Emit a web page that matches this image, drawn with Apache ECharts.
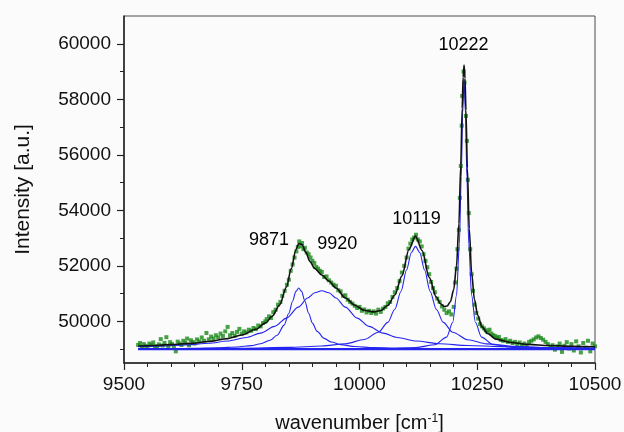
<!DOCTYPE html>
<html><head><meta charset="utf-8">
<script src="https://cdn.jsdelivr.net/npm/echarts@6/dist/echarts.min.js"></script>
<style>html,body{margin:0;padding:0;background:#fbfbfb}#c{width:624px;height:432px}</style>
</head><body><div id="c"></div>
<script>
// ---- tick values ----
const yMajorTicks = [50000, 52000, 54000, 56000, 58000, 60000];
const yMinorTicks = [49000, 51000, 53000, 55000, 57000, 59000];

// ---- measured data (green points) ----
const greenX = [
9530,9534,9538,9542,9546,9550,9554,9558,9562,9566,9570,9574,9578,9582,9586,9590,9594,9598,9602,9606,9610,9614,9618,9622,9626,9630,9634,9638,9642,9646,9650,9655,9660,9665,9670,9675,9680,9685,9690,9695,9700,9705,9710,9715,9720,9725,9730,9735,9740,9745,9750,9755,9760,9765,9770,9775,9780,9785,9790,9795,9800,
9803,9808,9812,9817,9822,9827,9832,9836,9841,9846,9850,9854,9858,9862,9866,9869,9872,9875,9878,9881,9884,9888,9892,9896,9900,9904,9908,9912,9916,9920,9925,9930,9935,9940,9945,9950,9955,9960,9965,9970,9975,9980,9985,9990,9995,10000,10005,10010,10015,10020,10025,10030,10035,10040,10045,
10050,10055,10060,10065,10070,10075,10080,10085,10090,10095,10100,10104,10108,10112,10116,10120,10124,10128,10132,10136,10140,10144,10148,10152,10156,10160,10165,10170,10175,10180,10185,10190,10195,10200,
10203,10206,10208,10211,10213,10215,10217,10218,10221,10223,10226,10228,10230,10232,10235,10238,10241,10244,10248,10252,10256,10260,10264,10268,10272,10276,10280,10284,10288,10292,10296,10300,10305,10310,10315,10320,10325,10330,10335,10340,10345,10350,10355,10360,10365,10370,10375,10380,10385,10390,10395,10400,10405,10410,10415,10420,10425,10430,10435,10440,10445,10450,10455,10460,10465,10470,10475,10480,10485,10490,10495,10500];
const greenY = [
49150,49220,49080,49180,49120,49060,49200,49150,49240,49100,49050,49170,49360,49130,49220,49430,49110,49250,49180,49080,48920,49270,49200,49150,49300,49230,49380,49140,49320,49260,49200,49350,49280,49420,49300,49580,49350,49450,49380,49500,49420,49560,49470,49640,49800,49500,49580,49480,49620,49730,49560,49640,49600,49700,49660,49760,49720,49850,49820,49940,50000,
50080,50180,50120,50330,50420,50600,50700,50920,51100,51320,51500,51820,52050,52300,52520,52680,52880,52700,52820,52600,52650,52480,52420,52300,52180,52100,51960,51900,51820,51780,51600,51620,51480,51400,51320,51280,51120,51080,50920,50940,50780,50700,50640,50560,50480,50520,50380,50430,50320,50380,50300,50360,50280,50420,50340,
50460,50520,50650,50700,50880,51050,51200,51450,51760,52000,52300,52620,52800,52950,53020,53120,52950,52880,52700,52420,52180,51950,51700,51420,51200,51050,50820,50700,50540,50420,50300,50360,50250,50520,
51400,51900,52600,53300,54450,55600,57050,58120,59000,58600,57400,56500,55100,53900,52600,51700,51100,50600,50300,50100,49900,49820,49750,49680,49620,49700,49560,49500,49470,49400,49440,49330,49300,49360,49260,49300,49220,49260,49180,49240,49150,49200,49120,49260,49300,49350,49420,49460,49400,49340,49260,49180,49060,49140,48980,49100,49200,48900,49120,49250,49020,49180,48950,49280,49100,48880,49220,49050,49300,48920,49200,49100];

// ---- cumulative fit (black) ----
const fitX = [9530,9560,9600,9640,9680,9720,9750,9780,9800,9815,9830,9845,9855,9865,9871,9878,9886,9895,9905,9920,9935,9950,9970,9990,10010,10030,10045,10060,10075,10090,10105,10119,10133,10148,10163,10172,10180,10186,10193,10200,10206,10211,10215,10218,10220,10222,10224,10226,10229,10233,10238,10244,10251,10260,10272,10290,10320,10360,10400,10450,10500];
const fitY = [49111,49129,49161,49206,49272,49379,49507,49714,49936,50189,50581,51239,51893,52580,52804,52767,52484,52152,51903,51672,51456,51201,50846,50580,50400,50340,50390,50570,50950,51640,52591,53072,52547,51583,50876,50635,50537,50552,50707,51144,52008,53511,55632,57664,58790,59232,58760,57603,55526,53346,51760,50791,50222,49800,49560,49360,49240,49170,49130,49105,49084];

// ---- fitted peak components (blue) ----
const p9871X = [9530,9600,9650,9700,9740,9770,9790,9810,9825,9840,9850,9858,9865,9871,9877,9884,9892,9900,9910,9925,9940,9960,9990,10030,10100,10200,10350,10500];
const p9871Y = [49012,49019,49028,49046,49077,49127,49191,49317,49501,49866,50290,50732,51080,51200,51080,50732,50290,49938,49641,49388,49255,49161,49093,49053,49026,49013,49006,49003];
const p9920X = [9530,9580,9630,9680,9720,9760,9790,9820,9845,9870,9890,9905,9920,9935,9950,9970,9995,10020,10050,10080,10120,10170,10230,10300,10400,10500];
const p9920Y = [49085,49110,49149,49210,49290,49420,49577,49820,50118,50511,50841,51029,51100,51029,50841,50511,50118,49820,49577,49420,49290,49195,49131,49089,49057,49039];
const p10119X = [9530,9650,9750,9850,9920,9970,10010,10040,10060,10075,10088,10100,10110,10119,10128,10138,10150,10163,10178,10198,10230,10270,10330,10400,10500];
const p10119Y = [49013,49020,49033,49062,49111,49194,49346,49607,49963,50434,51074,51858,52471,52700,52471,51858,51074,50434,49963,49607,49335,49189,49099,49056,49031];
const p10222X = [9530,9700,9850,9950,10050,10120,10160,10185,10198,10206,10212,10216,10219,10222,10225,10228,10232,10238,10246,10259,10284,10330,10400,10500];
const p10222Y = [49001,49002,49004,49008,49021,49059,49159,49433,49970,50940,52785,55208,57504,58700,57504,55208,52785,50940,49970,49433,49159,49053,49020,49008];
const baseX = [9530, 10500];
const baseY = [49000, 49000];

// ---- peak annotations ----
const peakLabels = ['9871', '9920', '10119', '10222'];
const peakLabelX = [9808, 9953, 10121, 10221];
const peakLabelY = [52913, 52769, 53671, 59953];

const FONT = "'Liberation Sans', Arial, Helvetica, sans-serif";
const zip = (xs, ys) => xs.map((x, i) => [x, ys[i]]);
const BLUE = '#2424f0';

const blueLine = (xs, ys, w) => ({
  type: 'line', data: zip(xs, ys), showSymbol: false, smooth: 0.3, smoothMonotone: 'x',
  lineStyle: { color: BLUE, width: w || 1.1 }, z: 3, silent: true
});

const chart = echarts.init(document.getElementById('c'), null, { renderer: 'canvas' });
chart.setOption({
  animation: false,
  backgroundColor: '#fbfbfb',
  textStyle: { fontFamily: FONT },
  grid: { left: 124, right: 29, top: 16, bottom: 69, show: true, borderColor: '#4a4a4a', borderWidth: 1,
    backgroundColor: 'transparent', containLabel: false, outerBoundsMode: 'none' },
  xAxis: {
    type: 'value', min: 9500, max: 10500, interval: 250,
    axisLine: { show: true, onZero: false, lineStyle: { color: '#222', width: 1.5 } },
    axisTick: { show: true, length: 7, lineStyle: { color: '#222', width: 1.2 } },
    minorTick: { show: true, splitNumber: 5, length: 4, lineStyle: { color: '#222', width: 1 } },
    axisLabel: { fontSize: 19, color: '#111', margin: 12, fontFamily: FONT, formatter: v => String(v) },
    splitLine: { show: false }, minorSplitLine: { show: false },
    name: 'wavenumber [cm{sup|-1}]', nameLocation: 'middle', nameGap: 50,
    nameTextStyle: { fontSize: 20, color: '#111', fontFamily: FONT,
      rich: { sup: { fontSize: 12, verticalAlign: 'top', color: '#111', fontFamily: FONT, padding: [0, 0, 8, 0] } } }
  },
  yAxis: [{
    type: 'value', min: 48500, max: 61000,
    axisLine: { show: true, onZero: false, lineStyle: { color: '#222', width: 1.5 } },
    axisTick: { show: true, length: 7, customValues: yMajorTicks, lineStyle: { color: '#222', width: 1.2 } },
    axisLabel: { fontSize: 19, color: '#111', margin: 13, fontFamily: FONT, customValues: yMajorTicks, formatter: v => String(v) },
    splitLine: { show: false },
    name: 'Intensity [a.u.]', nameLocation: 'middle', nameGap: 90,
    nameTextStyle: { fontSize: 21, color: '#111', fontFamily: FONT }
  }, {
    type: 'value', min: 48500, max: 61000, position: 'left',
    axisLine: { show: false },
    axisTick: { show: true, length: 4, customValues: yMinorTicks, lineStyle: { color: '#222', width: 1 } },
    axisLabel: { show: false },
    splitLine: { show: false }
  }],
  series: [
    { type: 'scatter', data: zip(greenX, greenY), symbol: 'rect', symbolSize: 4,
      itemStyle: { color: '#1b8a1b' }, z: 2, silent: true },
    blueLine(baseX, baseY, 2.2),
    blueLine(p9871X, p9871Y),
    blueLine(p9920X, p9920Y),
    blueLine(p10119X, p10119Y),
    blueLine(p10222X, p10222Y),
    { type: 'line', data: zip(fitX, fitY), showSymbol: false, smooth: 0.3, smoothMonotone: 'x',
      lineStyle: { color: '#111', width: 1.6 }, z: 4, silent: true },
    { type: 'scatter', data: peakLabelX.map((x, i) => ({ value: [x, peakLabelY[i]], name: peakLabels[i] })),
      symbol: 'circle', symbolSize: 0, itemStyle: { color: '#000', opacity: 1 }, z: 5, silent: true,
      label: { show: true, position: 'inside', formatter: p => p.name, fontSize: 18, color: '#000',
        fontFamily: FONT, textBorderWidth: 0, textBorderColor: 'transparent', opacity: 1 } }
  ]
});
</script>
</body></html>
